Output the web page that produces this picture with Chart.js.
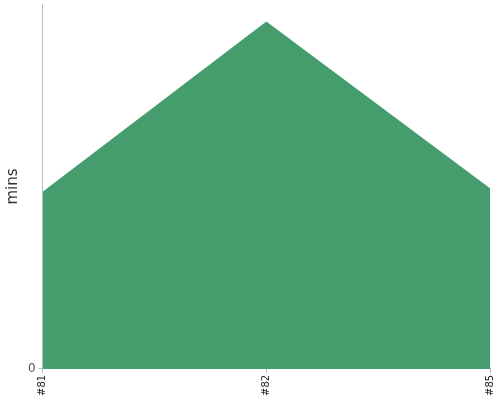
<!DOCTYPE html>
<html>
<head>
<meta charset="utf-8">
<script src="https://cdn.jsdelivr.net/npm/chart.js@4"></script>
<style>
  html, body { margin: 0; padding: 0; background: #fff; }
  #wrap { width: 500px; height: 400px; }
</style>
</head>
<body>
<div id="wrap"><canvas id="minsChart"></canvas></div>
<script>
// Build numbers along the x axis, minutes on the y axis
const builds = ['#81', '#82', '#85'];
const minutes = [51, 100, 52];
const yTicks = [0];

const ctx = document.getElementById('minsChart').getContext('2d');
const minsChart = new Chart(ctx, {
    type: 'line',
    data: {
        labels: builds,
        datasets: [{
            data: minutes,
            fill: 'origin',
            backgroundColor: 'rgb(69, 156, 108)',
            borderColor: 'rgb(69, 156, 108)',
            borderWidth: 0,
            pointRadius: 0,
            tension: 0
        }]
    },
    options: {
        responsive: true,
        maintainAspectRatio: false,
        animation: false,
        layout: { padding: { top: 4, right: 10, left: 4, bottom: 2 } },
        plugins: {
            legend: { display: false },
            tooltip: { enabled: false }
        },
        scales: {
            x: {
                offset: false,
                afterFit: (axis) => { axis.paddingLeft = 0; axis.paddingRight = 0; },
                grid: { display: true, drawOnChartArea: false, tickLength: 4, color: '#bbb' },
                border: { display: true, color: '#bbb' },
                ticks: {
                    autoSkip: false,
                    minRotation: 90,
                    maxRotation: 90,
                    color: '#222',
                    font: { family: 'DejaVu Sans', size: 10 },
                    padding: 2
                }
            },
            y: {
                min: 0,
                max: 105,
                afterBuildTicks: (axis) => {
                    axis.ticks = yTicks.map(v => ({ value: v }));
                },
                afterFit: (axis) => { axis.paddingTop = 0; axis.paddingBottom = 0; },
                grid: { display: true, drawOnChartArea: false, tickLength: 4, color: '#bbb' },
                border: { display: true, color: '#bbb' },
                ticks: {
                    color: '#555',
                    font: { family: 'DejaVu Sans', size: 12 },
                    padding: 3
                },
                title: {
                    display: true,
                    text: 'mins',
                    color: '#333',
                    font: { family: 'DejaVu Sans', size: 15 },
                    padding: { top: 0, bottom: 3 }
                }
            }
        }
    }
});
</script>
</body>
</html>
